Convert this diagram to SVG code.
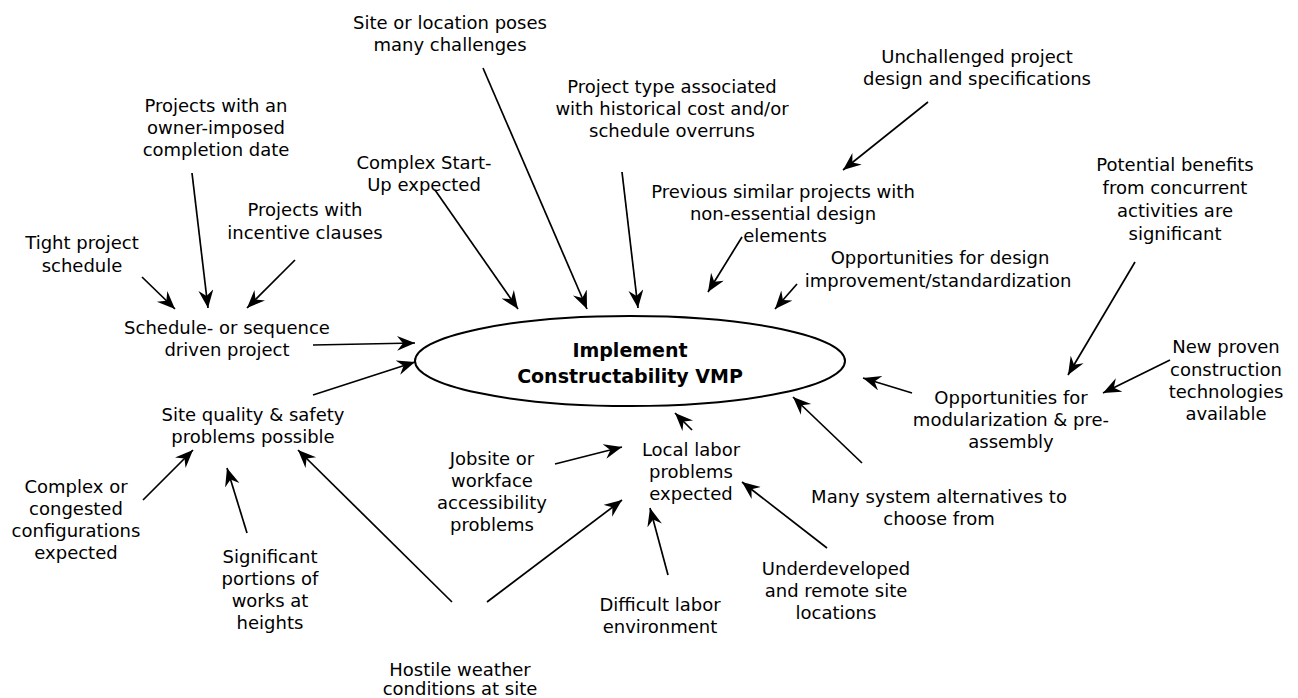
<svg xmlns="http://www.w3.org/2000/svg" width="1298" height="698" viewBox="0 0 1298 698">
<style>
  text { font-family: "DejaVu Sans", "Liberation Sans", sans-serif; font-size: 18px; fill: #000; text-anchor: middle; }
  .title { font-weight: bold; font-size: 19px; }
  .conn line { stroke: #000; stroke-width: 1.7; fill: none; marker-end: url(#ah); }
  .ell { fill: #fff; stroke: #000; stroke-width: 2; }
</style>
<defs>
  <marker id="ah" markerUnits="userSpaceOnUse" markerWidth="20" markerHeight="16" refX="18" refY="7.5" orient="auto">
    <path d="M0,0 L18,7.5 L0,15 L6,7.5 z" fill="#000"/>
  </marker>
</defs>
<rect width="1298" height="698" fill="#fff"/>

<g id="connectors" class="conn">
  <line x1="483" y1="68" x2="587" y2="309"/>
  <line x1="435" y1="190" x2="518" y2="309"/>
  <line x1="622" y1="172" x2="638" y2="308"/>
  <line x1="928" y1="102" x2="843" y2="170"/>
  <line x1="742" y1="237" x2="708" y2="292"/>
  <line x1="797" y1="284" x2="775" y2="309"/>
  <line x1="1135" y1="262" x2="1068" y2="375"/>
  <line x1="1170" y1="360" x2="1103" y2="393"/>
  <line x1="912" y1="393" x2="863" y2="378"/>
  <line x1="862" y1="463" x2="793" y2="397"/>
  <line x1="692" y1="430" x2="675" y2="413"/>
  <line x1="555" y1="464" x2="622" y2="447"/>
  <line x1="487" y1="602" x2="622" y2="500"/>
  <line x1="452" y1="602" x2="298" y2="450"/>
  <line x1="668" y1="575" x2="650" y2="508"/>
  <line x1="827" y1="548" x2="742" y2="482"/>
  <line x1="143" y1="500" x2="193" y2="450"/>
  <line x1="247" y1="533" x2="227" y2="468"/>
  <line x1="313" y1="345" x2="415" y2="343"/>
  <line x1="313" y1="395" x2="415" y2="362"/>
  <line x1="142" y1="277" x2="175" y2="309"/>
  <line x1="192" y1="173" x2="208" y2="308"/>
  <line x1="295" y1="260" x2="247" y2="308"/>
</g>

<g id="center">
  <ellipse class="ell" cx="630" cy="361" rx="215" ry="45"/>
  <text class="title" x="630" y="357">Implement</text>
  <text class="title" x="630" y="383">Constructability VMP</text>
</g>

<g id="site-location"><text x="450" y="29">Site or location poses</text><text x="450" y="51">many challenges</text></g>
<g id="owner-imposed"><text x="216" y="112">Projects with an</text><text x="216" y="134">owner-imposed</text><text x="216" y="156">completion date</text></g>
<g id="complex-startup"><text x="424" y="169">Complex Start-</text><text x="424" y="191">Up expected</text></g>
<g id="incentive"><text x="305" y="216">Projects with</text><text x="305" y="239">incentive clauses</text></g>
<g id="tight-schedule"><text x="82" y="249">Tight project</text><text x="82" y="272">schedule</text></g>
<g id="schedule-driven"><text x="227" y="334">Schedule- or sequence</text><text x="227" y="356">driven project</text></g>
<g id="site-quality"><text x="253" y="421">Site quality &amp; safety</text><text x="253" y="443">problems possible</text></g>
<g id="project-type"><text x="672" y="93">Project type associated</text><text x="672" y="115">with historical cost and/or</text><text x="672" y="137">schedule overruns</text></g>
<g id="unchallenged"><text x="977" y="63">Unchallenged project</text><text x="977" y="85">design and specifications</text></g>
<g id="previous-similar"><text x="783" y="198">Previous similar projects with</text><text x="783" y="220">non-essential design</text><text x="785" y="242">elements</text></g>
<g id="potential-benefits"><text x="1175" y="171">Potential benefits</text><text x="1175" y="194">from concurrent</text><text x="1175" y="217">activities are</text><text x="1175" y="240">significant</text></g>
<g id="design-improvement"><text x="940" y="264">Opportunities for design</text><text x="938" y="287">improvement/standardization</text></g>
<g id="new-proven"><text x="1226" y="353">New proven</text><text x="1226" y="376">construction</text><text x="1226" y="398">technologies</text><text x="1226" y="420">available</text></g>
<g id="modularization"><text x="1011" y="404">Opportunities for</text><text x="1011" y="426">modularization &amp; pre-</text><text x="1011" y="448">assembly</text></g>
<g id="local-labor"><text x="691" y="456">Local labor</text><text x="691" y="478">problems</text><text x="691" y="500">expected</text></g>
<g id="jobsite"><text x="492" y="465">Jobsite or</text><text x="492" y="487">workface</text><text x="492" y="509">accessibility</text><text x="492" y="531">problems</text></g>
<g id="many-system"><text x="939" y="503">Many system alternatives to</text><text x="939" y="525">choose from</text></g>
<g id="underdeveloped"><text x="836" y="575">Underdeveloped</text><text x="836" y="597">and remote site</text><text x="836" y="619">locations</text></g>
<g id="difficult-labor"><text x="660" y="611">Difficult labor</text><text x="660" y="633">environment</text></g>
<g id="hostile-weather"><text x="460" y="676">Hostile weather</text><text x="460" y="695">conditions at site</text></g>
<g id="complex-congested"><text x="76" y="493">Complex or</text><text x="76" y="515">congested</text><text x="76" y="537">configurations</text><text x="76" y="559">expected</text></g>
<g id="significant-heights"><text x="270" y="563">Significant</text><text x="270" y="585">portions of</text><text x="270" y="607">works at</text><text x="270" y="629">heights</text></g>
</svg>
